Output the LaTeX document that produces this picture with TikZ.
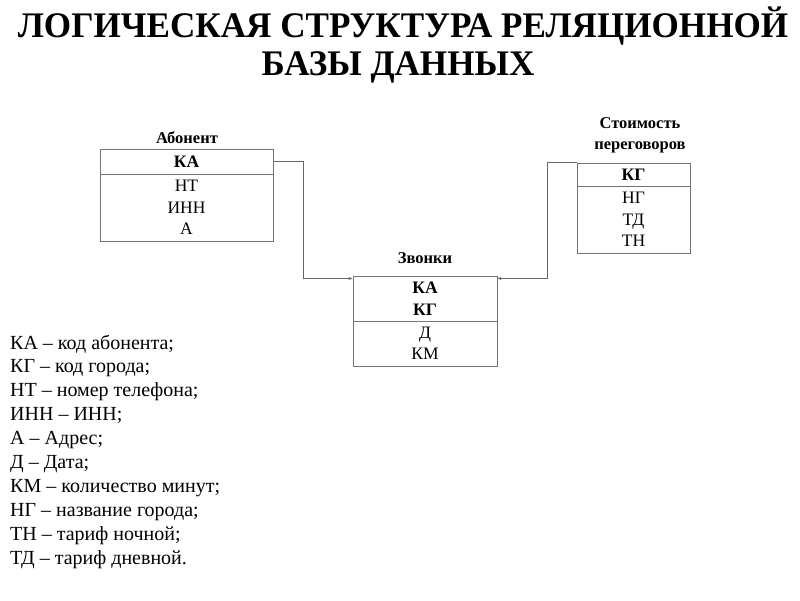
\documentclass[tikz,border=0pt]{standalone}
\usepackage{fontspec}
\setmainfont{Liberation Serif}
\newfontfamily\titlefont[FakeStretch=0.975]{Liberation Serif}
\usetikzlibrary{arrows.meta,calc}
\begin{document}
\begin{tikzpicture}[x=1pt,y=-1pt,
  boxline/.style={draw=black!55, line width=1pt},
  keybox/.style={boxline, rectangle, inner sep=0pt, align=center, font=\fontsize{17.5}{22}\selectfont\bfseries},
  attrbox/.style={boxline, rectangle, inner sep=0pt, align=center, font=\fontsize{17.5}{21.5}\selectfont},
  tlabel/.style={inner sep=0pt, align=center, font=\fontsize{16.5}{21}\selectfont\bfseries},
  conn/.style={draw=black!60, line width=1.1pt, -{Stealth[length=4pt,width=3pt]}},
  ttl/.style={inner sep=0pt, anchor=base, font=\titlefont\fontsize{36}{40}\selectfont\bfseries},
  leg/.style={inner sep=0pt, anchor=base west, font=\fontsize{20}{24}\selectfont}
]
\useasboundingbox (0,0) rectangle (800,600);

% title
\node[ttl] (t1) at (403,37) {ЛОГИЧЕСКАЯ СТРУКТУРА РЕЛЯЦИОННОЙ};
\node[ttl] (t2) at (398,75) {БАЗЫ ДАННЫХ};

% Абонент
\node[tlabel] (abl) at (187,138) {Абонент};
\node[keybox, minimum width=173pt, minimum height=25pt] (abk) at (186.5,161.5) {КА};
\node[attrbox, minimum width=173pt, minimum height=67pt] (aba) at (186.5,207.5) {НТ\\ИНН\\А};

% Стоимость переговоров
\node[tlabel] (stl) at (640,135.5) {Стоимость\\переговоров};
\node[keybox, minimum width=113pt, minimum height=23pt] (stk) at (633.5,174.5) {КГ};
\node[attrbox, minimum width=113pt, minimum height=67pt] (sta) at (633.5,219.5) {НГ\\ТД\\ТН};

% Звонки
\node[tlabel] (zvl) at (425,258) {Звонки};
\node[keybox, minimum width=144pt, minimum height=45pt] (zvk) at (425,298.5) {КА\\КГ};
\node[attrbox, minimum width=144pt, minimum height=45pt] (zva) at (425,343.5) {Д\\КМ};

% connectors
\coordinate (zinl) at ($(zvk.north west)+(0,3)$);
\coordinate (zinr) at ($(zvk.north east)+(0,3)$);
\draw[conn] (abk.east) -| ($(abk.east)+(30,0)$) |- (zinl);
\draw[conn] (stk.north west) -| ($(stk.north west)+(-29,0)$) |- (zinr);

% legend
\foreach \t [count=\i] in {КА – код абонента;, КГ – код города;, НТ – номер телефона;, ИНН – ИНН;, А – Адрес;, Д – Дата;, КМ – количество минут;, НГ – название города;, ТН – тариф ночной;, ТД – тариф дневной.}
  \node[leg] (leg\i) at (10,{349+(\i-1)*23.9}) {\t};
\end{tikzpicture}
\end{document}
